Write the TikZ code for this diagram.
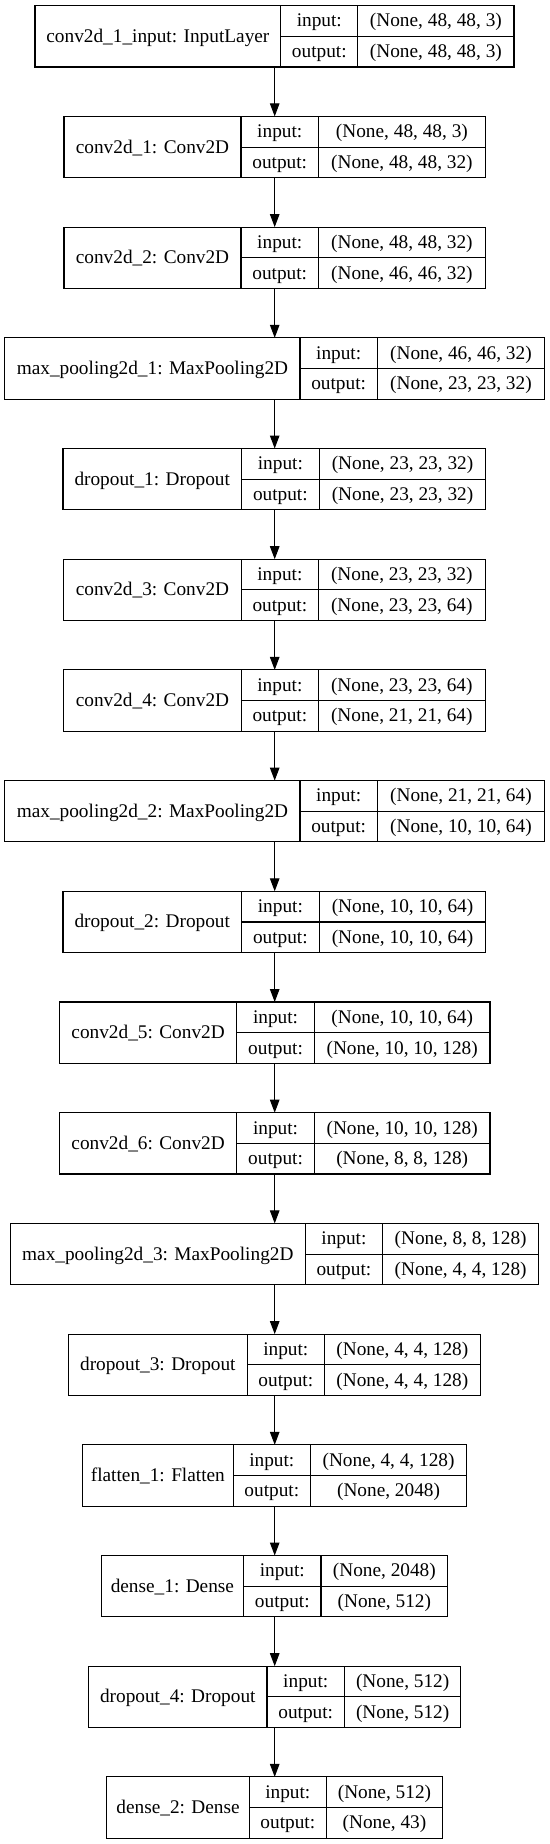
\documentclass[tikz,border=0pt]{standalone}
\usepackage{fontspec}
\setmainfont{Liberation Serif}
\usetikzlibrary{arrows.meta}
\tikzset{
  frame/.style={draw=black, line width=1.1pt, inner sep=0pt, outer sep=0pt, minimum height=61.3pt},
  cell/.style={inner sep=0pt, outer sep=0pt, anchor=base, font=\fontsize{19.3}{23}\selectfont, text=black},
  sep/.style={draw=black, line width=1.1pt},
  link/.style={draw=black, line width=1.1pt, -{Triangle[length=13pt,width=9.5pt]}}
}
\newcommand{\layerbox}[9]{%
  \pgfmathsetmacro{\ty}{5.7+(#2-1)*110.7}%
  \pgfmathsetmacro{\tm}{\ty+30.65}%
  \pgfmathsetmacro{\tb}{\ty+61.3}%
  \pgfmathsetmacro{\ya}{\ty+15.3+6}%
  \pgfmathsetmacro{\yb}{\ty+46+6}%
  \pgfmathsetmacro{\yc}{\ty+30.65+6}%
  \pgfmathsetmacro{\bw}{#6-#3}%
  \node[frame, minimum width=\bw pt, anchor=north west] (#1) at (#3,\ty) {};
  \draw[sep] (#4,\ty) -- (#4,\tb) (#5,\ty) -- (#5,\tb) (#4,\tm) -- (#6,\tm);
  \node[cell] (#1-name) at ({(#3+#4)/2},\yc) {#7};
  \node[cell] (#1-it) at ({(#4+#5)/2},\ya) {input:};
  \node[cell] (#1-ot) at ({(#4+#5)/2},\yb) {output:};
  \node[cell] (#1-iv) at ({(#5+#6)/2},\ya) {#8};
  \node[cell] (#1-ov) at ({(#5+#6)/2},\yb) {#9};
}
\begin{document}
\begin{tikzpicture}[x=1pt,y=-1pt]
\useasboundingbox[fill=white] (0,0) rectangle (549,1844);
\coordinate (ax) at (274.7,0);
\layerbox{l1}{1}{35}{280.8}{357.8}{514}{conv2d\_1\_input: InputLayer}{(None, 48, 48, 3)}{(None, 48, 48, 3)}
\layerbox{l2}{2}{64}{241}{318.5}{485.3}{conv2d\_1: Conv2D}{(None, 48, 48, 3)}{(None, 48, 48, 32)}
\layerbox{l3}{3}{64}{241}{318.5}{485.3}{conv2d\_2: Conv2D}{(None, 48, 48, 32)}{(None, 46, 46, 32)}
\layerbox{l4}{4}{4.9}{300}{377.3}{544.6}{max\_pooling2d\_1: MaxPooling2D}{(None, 46, 46, 32)}{(None, 23, 23, 32)}
\layerbox{l5}{5}{63}{241.5}{319.2}{485.8}{dropout\_1: Dropout}{(None, 23, 23, 32)}{(None, 23, 23, 32)}
\layerbox{l6}{6}{63.7}{241.2}{318.5}{485.1}{conv2d\_3: Conv2D}{(None, 23, 23, 32)}{(None, 23, 23, 64)}
\layerbox{l7}{7}{63.7}{241.2}{318.5}{485.1}{conv2d\_4: Conv2D}{(None, 23, 23, 64)}{(None, 21, 21, 64)}
\layerbox{l8}{8}{4.9}{300}{377.3}{544.6}{max\_pooling2d\_2: MaxPooling2D}{(None, 21, 21, 64)}{(None, 10, 10, 64)}
\layerbox{l9}{9}{63}{241.5}{319.2}{485.8}{dropout\_2: Dropout}{(None, 10, 10, 64)}{(None, 10, 10, 64)}
\layerbox{l10}{10}{59.5}{236.7}{314.4}{490}{conv2d\_5: Conv2D}{(None, 10, 10, 64)}{(None, 10, 10, 128)}
\layerbox{l11}{11}{59.5}{236.7}{314.4}{490}{conv2d\_6: Conv2D}{(None, 10, 10, 128)}{(None, 8, 8, 128)}
\layerbox{l12}{12}{10.5}{305.2}{382.6}{538.7}{max\_pooling2d\_3: MaxPooling2D}{(None, 8, 8, 128)}{(None, 4, 4, 128)}
\layerbox{l13}{13}{68.6}{247.1}{324.5}{480.2}{dropout\_3: Dropout}{(None, 4, 4, 128)}{(None, 4, 4, 128)}
\layerbox{l14}{14}{82.6}{233.1}{310.5}{466.6}{flatten\_1: Flatten}{(None, 4, 4, 128)}{(None, 2048)}
\layerbox{l15}{15}{101.2}{243.6}{321}{447.7}{dense\_1: Dense}{(None, 2048)}{(None, 512)}
\layerbox{l16}{16}{88.6}{267}{344.5}{460.8}{dropout\_4: Dropout}{(None, 512)}{(None, 512)}
\layerbox{l17}{17}{106.8}{249.3}{326.3}{442.6}{dense\_2: Dense}{(None, 512)}{(None, 43)}
\foreach \a/\b in {l1/l2,l2/l3,l3/l4,l4/l5,l5/l6,l6/l7,l7/l8,l8/l9,l9/l10,l10/l11,l11/l12,l12/l13,l13/l14,l14/l15,l15/l16,l16/l17}
  \draw[link] (\a.south -| ax) -- (\b.north -| ax);
\end{tikzpicture}
\end{document}
